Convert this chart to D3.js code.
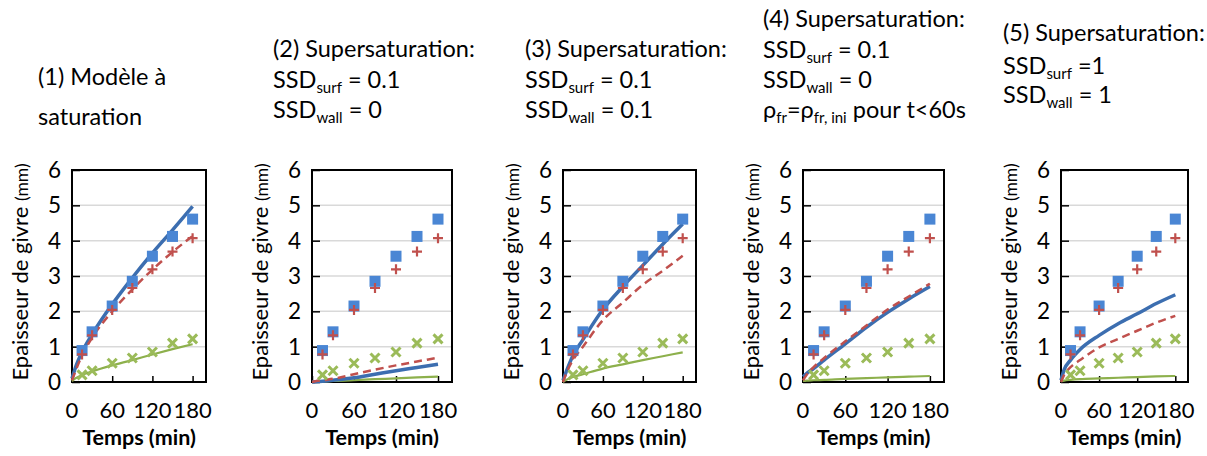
<!DOCTYPE html>
<html><head><meta charset="utf-8">
<script src="https://cdn.jsdelivr.net/npm/d3@7"></script>
<style>
html,body{margin:0;padding:0;background:#fff;}
text{font-family:Lato,"Open Sans",sans-serif;fill:#000;}
</style></head>
<body><svg id="c" width="1207" height="456"></svg>
<script>
// ---- data ----
const times = [15, 30, 60, 90, 120, 150, 180];
const expBlue = [0.89, 1.42, 2.15, 2.85, 3.56, 4.12, 4.61];
const expRed = [0.78, 1.32, 2.04, 2.66, 3.19, 3.69, 4.07];
const expGreen = [0.2, 0.32, 0.53, 0.68, 0.85, 1.1, 1.22];

const modelT = [0, 5, 15, 30, 60, 90, 120, 150, 180];
const p1Blue = [0.1, 0.4, 0.85, 1.35, 2.2, 2.95, 3.65, 4.3, 4.97];
const p1Red = [0.05, 0.3, 0.75, 1.25, 2.0, 2.62, 3.18, 3.68, 4.13];
const p1Green = [0.02, 0.1, 0.2, 0.3, 0.47, 0.62, 0.78, 0.93, 1.07];
const p2Blue = [0.0, 0.01, 0.02, 0.05, 0.12, 0.22, 0.32, 0.41, 0.5];
const p2Red = [0.0, 0.02, 0.05, 0.09, 0.22, 0.35, 0.47, 0.58, 0.69];
const p2Green = [0.0, 0.005, 0.015, 0.03, 0.05, 0.08, 0.1, 0.13, 0.15];
const p3Blue = [0.05, 0.3, 0.75, 1.2, 2.05, 2.7, 3.3, 3.9, 4.47];
const p3Red = [0.0, 0.25, 0.62, 1.0, 1.75, 2.25, 2.75, 3.15, 3.57];
const p3Green = [0.0, 0.06, 0.14, 0.22, 0.38, 0.5, 0.62, 0.73, 0.84];
const p4Blue = [0.15, 0.24, 0.38, 0.62, 1.08, 1.55, 1.97, 2.35, 2.7];
const p4Red = [0.05, 0.2, 0.42, 0.68, 1.15, 1.6, 2.05, 2.42, 2.78];
const p4Green = [0.03, 0.04, 0.05, 0.06, 0.09, 0.11, 0.13, 0.15, 0.17];
const p5Blue = [0.05, 0.35, 0.62, 0.92, 1.32, 1.65, 1.93, 2.22, 2.47];
const p5Red = [0.0, 0.2, 0.42, 0.62, 0.98, 1.22, 1.45, 1.68, 1.87];
const p5Green = [0.02, 0.04, 0.06, 0.08, 0.1, 0.12, 0.14, 0.16, 0.17];

const xTicks = [0, 60, 120, 180];
const yTicks = [0, 1, 2, 3, 4, 5, 6];
const yTitle = "Epaisseur de givre";
const yUnit = "(mm)";
const xTitle = "Temps (min)";

// title lines: arrays of [text, isSubscript]
const titles = [
  [[["(1) Modèle à", 0]], [["saturation", 0]]],
  [[["(2) Supersaturation:", 0]], [["SSD", 0], ["surf", 1], [" = 0.1", 0]], [["SSD", 0], ["wall", 1], [" = 0", 0]]],
  [[["(3) Supersaturation:", 0]], [["SSD", 0], ["surf", 1], [" = 0.1", 0]], [["SSD", 0], ["wall", 1], [" = 0.1", 0]]],
  [[["(4) Supersaturation:", 0]], [["SSD", 0], ["surf", 1], [" = 0.1", 0]], [["SSD", 0], ["wall", 1], [" = 0", 0]], [["ρ", 0], ["fr", 1], ["=ρ", 0], ["fr, ini", 1], [" pour t<60s", 0]]],
  [[["(5) Supersaturation:", 0]], [["SSD", 0], ["surf", 1], [" =1", 0]], [["SSD", 0], ["wall", 1], [" = 1", 0]]]
];
const models = [
  [p1Blue, p1Red, p1Green],
  [p2Blue, p2Red, p2Green],
  [p3Blue, p3Red, p3Green],
  [p4Blue, p4Red, p4Green],
  [p5Blue, p5Red, p5Green]
];

// ---- layout ----
const panels = [
  {x0: 72, x1: 206, tx: 38, tb: [85, 125]},
  {x0: 312, x1: 452, tx: 273, tb: [57, 88, 118]},
  {x0: 563, x1: 696, tx: 525, tb: [57, 88, 118]},
  {x0: 803, x1: 944, tx: 763, tb: [27, 58, 88, 118]},
  {x0: 1061, x1: 1188, tx: 1003, tb: [41, 74, 103]}
];
const yTop = 170, yBot = 382;
const svg = d3.select("#c");
const cBlue = "#4a86d4", cRed = "#c0504d", cGreen = "#9bbb59";
const lBlue = "#3c6eb0", lRed = "#c0504d", lGreen = "#8db04c";

panels.forEach((p, i) => {
  const g = svg.append("g");
  const x = d3.scaleLinear().domain([0, 200]).range([p.x0, p.x1]);
  const y = d3.scaleLinear().domain([0, 6]).range([yBot, yTop]);

  // title
  titles[i].forEach((line, li) => {
    const t = g.append("text").attr("x", p.tx).attr("y", p.tb[li]).attr("font-size", 23.5);
    let inSub = false;
    line.forEach(seg => {
      const s = t.append("tspan").text(seg[0]);
      if (seg[1]) { s.attr("font-size", 15).attr("dy", inSub ? 0 : 5); inSub = true; }
      else { if (inSub) s.attr("dy", -5); inSub = false; }
    });
  });

  // gridlines
  g.append("g").selectAll("line").data(yTicks.slice(1, -1)).join("line")
    .attr("x1", p.x0).attr("x2", p.x1).attr("y1", d => y(d)).attr("y2", d => y(d))
    .attr("stroke", "#d9d9d9").attr("stroke-width", 1.5);

  // axes
  const ya = g.append("g").attr("transform", `translate(${p.x0},0)`)
    .call(d3.axisRight(y).tickValues(yTicks).tickSize(8).tickFormat(""));
  ya.select(".domain").remove();
  ya.selectAll("line").attr("stroke", "#000").attr("stroke-width", 1.5);
  g.append("g").selectAll("text").data(yTicks).join("text")
    .attr("x", p.x0 - 11).attr("y", d => y(d)).attr("dy", "0.36em")
    .attr("text-anchor", "end").attr("font-size", 22.5).text(d => d);

  const xa = g.append("g").attr("transform", `translate(0,${yBot})`)
    .call(d3.axisTop(x).tickValues(xTicks).tickSize(6).tickFormat(""));
  xa.select(".domain").remove();
  xa.selectAll("line").attr("stroke", "#000").attr("stroke-width", 1.5);
  g.append("g").selectAll("text").data(xTicks).join("text")
    .attr("x", d => x(d)).attr("y", 410).attr("dy", "0.36em")
    .attr("text-anchor", "middle").attr("font-size", 22).text(d => d);

  g.append("text").attr("x", (p.x0 + p.x1) / 2).attr("y", 445)
    .attr("text-anchor", "middle").attr("font-size", 21.5).attr("font-weight", "bold").text(xTitle);

  const yt = g.append("text")
    .attr("transform", `translate(${p.x0 - 44},${(yTop + yBot) / 2 - 4}) rotate(-90)`)
    .attr("text-anchor", "middle").attr("font-size", 22);
  yt.append("tspan").text(yTitle + " ");
  yt.append("tspan").attr("font-size", 17.5).text(yUnit);

  // frame
  g.append("rect").attr("x", p.x0).attr("y", yTop).attr("width", p.x1 - p.x0).attr("height", yBot - yTop)
    .attr("fill", "none").attr("stroke", "#000").attr("stroke-width", 2);

  // model lines
  const line = d3.line().x((d, k) => x(modelT[k])).y(d => y(d)).curve(d3.curveMonotoneX);
  const [mb, mr, mg] = models[i];
  g.append("path").attr("d", line(mg)).attr("fill", "none").attr("stroke", lGreen).attr("stroke-width", 2.2);
  g.append("path").attr("d", line(mb)).attr("fill", "none").attr("stroke", lBlue).attr("stroke-width", 3.5);
  g.append("path").attr("d", line(mr)).attr("fill", "none").attr("stroke", lRed).attr("stroke-width", 2.5).attr("stroke-dasharray", "8,5");

  // experimental markers
  g.append("g").selectAll("rect").data(expBlue).join("rect")
    .attr("x", (d, k) => x(times[k]) - 5.5).attr("y", d => y(d) - 5.5)
    .attr("width", 11).attr("height", 11).attr("fill", cBlue);
  g.append("g").selectAll("path").data(expRed).join("path")
    .attr("d", (d, k) => { const cx = x(times[k]), cy = y(d); return `M${cx-5},${cy}H${cx+5}M${cx},${cy-5}V${cy+5}`; })
    .attr("stroke", cRed).attr("stroke-width", 2.2).attr("fill", "none");
  g.append("g").selectAll("path").data(expGreen).join("path")
    .attr("d", (d, k) => { const cx = x(times[k]), cy = y(d); return `M${cx-4.5},${cy-4.5}L${cx+4.5},${cy+4.5}M${cx+4.5},${cy-4.5}L${cx-4.5},${cy+4.5}`; })
    .attr("stroke", cGreen).attr("stroke-width", 3).attr("fill", "none");
});
</script></body></html>
